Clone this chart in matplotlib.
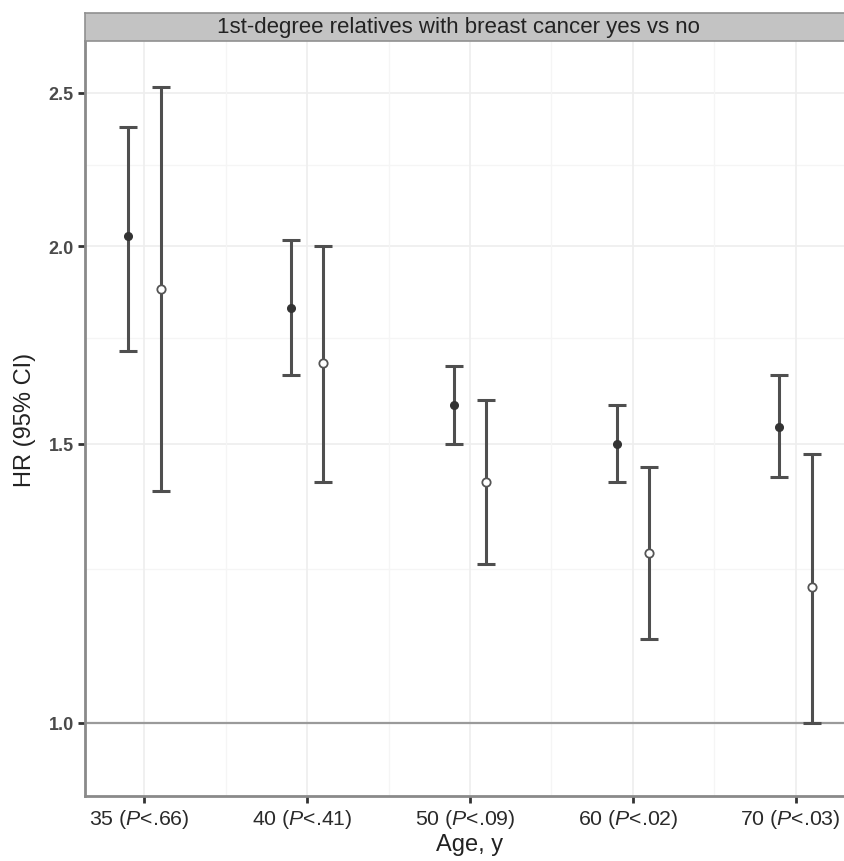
import matplotlib
matplotlib.use("Agg")
import matplotlib.pyplot as plt
import matplotlib.transforms as mtransforms
import numpy as np

plt.rcParams['font.family'] = ['Liberation Sans', 'DejaVu Sans']
plt.rcParams['mathtext.fontset'] = 'custom'
plt.rcParams['mathtext.rm'] = 'Liberation Sans'
plt.rcParams['mathtext.it'] = 'Liberation Sans:italic'

# data
age_labels = ['35 ($P$<.66)', '40 ($P$<.41)', '50 ($P$<.09)', '60 ($P$<.02)', '70 ($P$<.03)']
filled_hr = [2.03, 1.828, 1.588, 1.50, 1.538]
filled_lo = [1.718, 1.659, 1.50, 1.419, 1.43]
filled_hi = [2.377, 2.019, 1.68, 1.588, 1.659]
open_hr = [1.879, 1.688, 1.419, 1.28, 1.219]
open_lo = [1.40, 1.419, 1.259, 1.13, 1.0]
open_hi = [2.519, 2.0, 1.599, 1.45, 1.478]
y_ticks = [1.0, 1.5, 2.0, 2.5]
y_minor = [1.25, 1.75, 2.25]
strip_title = '1st-degree relatives with breast cancer yes vs no'

W, H = 845, 862
fig = plt.figure(figsize=(W / 100, H / 100), dpi=100)
fig.patch.set_facecolor('white')

# panel runs a little past the right edge, as in the reference
left, right = 85, 855
top, bottom = 42, 797
ax = fig.add_axes([left / W, 1 - bottom / H, (right - left) / W, (bottom - top) / H])
strip = fig.add_axes([left / W, 1 - top / H, (right - left) / W, 28 / H])

x = np.arange(1, len(age_labels) + 1)
dodge = 0.1

ax.set_yscale('log')
ax.set_ylim(0.899, 2.695)
ax.set_xlim(0.635, 5.365)

# grid
for v in y_ticks:
    ax.axhline(v, color='#eeeeee', lw=1.2, zorder=0)
for v in y_minor:
    ax.axhline(v, color='#f5f5f5', lw=1.0, zorder=0)
for v in x:
    ax.axvline(v, color='#eeeeee', lw=1.2, zorder=0)
for v in x[:-1] + 0.5:
    ax.axvline(v, color='#f5f5f5', lw=1.0, zorder=0)

ax.axhline(1.0, color='#9a9a9a', lw=1.6, zorder=1)

bar_col = '#4f4f4f'
ax.errorbar(x - dodge, filled_hr,
            yerr=[np.array(filled_hr) - np.array(filled_lo), np.array(filled_hi) - np.array(filled_hr)],
            fmt='none', ecolor=bar_col, elinewidth=2.2, capsize=6.5, capthick=2.2, zorder=3)
ax.errorbar(x + dodge, open_hr,
            yerr=[np.array(open_hr) - np.array(open_lo), np.array(open_hi) - np.array(open_hr)],
            fmt='none', ecolor=bar_col, elinewidth=2.2, capsize=6.5, capthick=2.2, zorder=3)
ax.plot(x - dodge, filled_hr, 'o', ms=5.5, color='#333333', mec='#333333', zorder=4)
ax.plot(x + dodge, open_hr, 'o', ms=6, mfc='white', mec='#555555', mew=1.3, zorder=4)

ax.set_yticks(y_ticks)
ax.set_yticklabels(['%.1f' % v for v in y_ticks], fontsize=13, fontweight='bold', color='#4a4a4a')
ax.set_yticks([], minor=True)
ax.set_xticks(x)
ax.set_xticklabels(age_labels, fontsize=15.3, color='#2a2a2a')
ax.tick_params(axis='both', direction='out', length=5, width=2, color='#333333', pad=3)
# labels sit a few pixels left of their ticks in the reference
shift = mtransforms.ScaledTranslation(-5 / 100, 0, fig.dpi_scale_trans)
for lab in ax.get_xticklabels():
    lab.set_transform(lab.get_transform() + shift)

for s in ['top', 'right']:
    ax.spines[s].set_visible(False)
for s in ['left', 'bottom']:
    ax.spines[s].set_color('#8a8a8a')
    ax.spines[s].set_linewidth(2)

ax.set_xlabel('Age, y', fontsize=17, color='#222222', labelpad=2)
ax.set_ylabel('HR (95% CI)', fontsize=17, color='#222222', labelpad=9)

strip.set_facecolor('#c3c3c3')
strip.set_xticks([])
strip.set_yticks([])
for s in strip.spines.values():
    s.set_color('#909090')
    s.set_linewidth(1.2)
strip.text((458 - left) / (right - left), 0.5, strip_title,
           ha='center', va='center', fontsize=16, color='#222222', transform=strip.transAxes)

fig.savefig('out.png', dpi=100)
